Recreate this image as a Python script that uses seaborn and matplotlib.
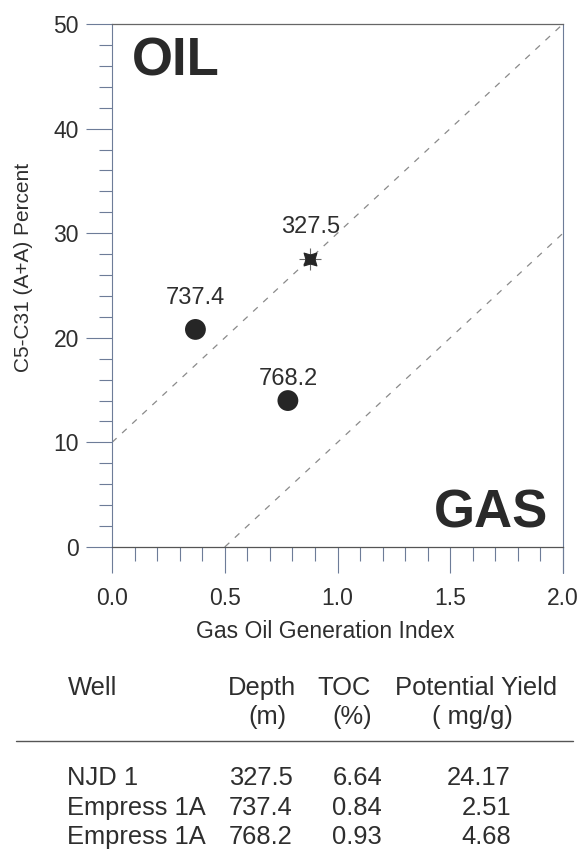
import matplotlib
matplotlib.use("Agg")
import matplotlib.pyplot as plt
import seaborn as sns
import pandas as pd

# Sample data
wells = ["NJD 1", "Empress 1A", "Empress 1A"]
depths = [327.5, 737.4, 768.2]
toc = [6.64, 0.84, 0.93]
potential_yield = [24.17, 2.51, 4.68]
gogi = [0.88, 0.37, 0.78]            # Gas Oil Generation Index
c5c31 = [27.5, 20.8, 14.0]           # C5-C31 (A+A) percent
marker_kind = ["star", "dot", "dot"]

# Oil / gas field boundaries
upper_x = [0.0, 2.0]
upper_y = [10.0, 50.0]
lower_x = [0.5, 2.0]
lower_y = [0.0, 30.0]

x_ticks = [0.0, 0.5, 1.0, 1.5, 2.0]
y_ticks = [0, 10, 20, 30, 40, 50]

df = pd.DataFrame({"gogi": gogi, "c5c31": c5c31, "depth": depths,
                   "kind": marker_kind})

sns.set_theme(style="white")
plt.rcParams["font.family"] = ["Liberation Sans", "DejaVu Sans"]

W, H = 578, 850
fig = plt.figure(figsize=(W / 100, H / 100), dpi=100)
ax = fig.add_axes([112 / W, 1 - 547 / H, 451 / W, 523 / H])

text_c = "#2e2e2e"
spine_c = "#6d7c98"

# boundary lines
sns.lineplot(x=upper_x, y=upper_y, ax=ax, color="#8a8a8a", lw=0.9,
             linestyle=(0, (5, 6)))
sns.lineplot(x=lower_x, y=lower_y, ax=ax, color="#8a8a8a", lw=0.9,
             linestyle=(0, (5, 6)))

dots = df[df["kind"] == "dot"]
stars = df[df["kind"] == "star"]
sns.scatterplot(data=dots, x="gogi", y="c5c31", ax=ax, s=225,
                color="#262626", edgecolor="none", zorder=5)
sns.scatterplot(data=stars, x="gogi", y="c5c31", ax=ax, s=230,
                marker="+", color="#6a6a6a", linewidth=0.8, zorder=5)
sns.scatterplot(data=stars, x="gogi", y="c5c31", ax=ax, s=170,
                marker=(4, 1, 45), color="#262626", edgecolor="#262626",
                linewidth=0.8, zorder=6)

# depth labels above each sample
label_offsets = {327.5: 19, 737.4: 18, 768.2: 11}
for xv, yv, d in zip(gogi, c5c31, depths):
    ax.annotate(f"{d:.1f}", (xv, yv), xytext=(0, label_offsets[d]),
                textcoords="offset points", ha="center", va="baseline",
                fontsize=17, color=text_c)

ax.set_xlim(0, 2.0)
ax.set_ylim(0, 50)
ax.set_xticks(x_ticks)
ax.set_xticklabels([f"{t:.1f}" for t in x_ticks])
ax.set_yticks(y_ticks)
ax.set_yticklabels([str(t) for t in y_ticks])
ax.set_xticks([i / 10 for i in range(21)], minor=True)
ax.set_yticks(list(range(0, 51, 2)), minor=True)
ax.set_xlabel("")
ax.set_ylabel("")

ax.tick_params(axis="both", which="both", direction="out", color=spine_c,
               width=0.8, labelcolor=text_c, labelsize=16.5)
ax.tick_params(axis="y", which="major", length=18.7, pad=5, left=True)
ax.tick_params(axis="y", which="minor", length=9.2, left=True)
ax.tick_params(axis="x", which="major", length=18.7, pad=10, bottom=True)
ax.tick_params(axis="x", which="minor", length=10, bottom=True)

for side in ["left", "right"]:
    ax.spines[side].set_color(spine_c)
    ax.spines[side].set_linewidth(0.8)
ax.spines["top"].set_color("#666666")
ax.spines["top"].set_linestyle((0, (1, 1)))
ax.spines["top"].set_linewidth(0.9)
ax.spines["bottom"].set_color("#555555")
ax.spines["bottom"].set_linewidth(0.9)
ax.spines["bottom"].set_linestyle((0, (2, 1)))

# the right edge continues down as the 2.0 tick
ax.plot([2.0, 2.0], [0, -2.5], color=spine_c, lw=0.8, clip_on=False)

ax.text((132 - 112) / 451, 1 - (75 - 24) / 523, "OIL",
        transform=ax.transAxes, fontsize=38, fontweight="bold",
        color="#2a2a2a", ha="left", va="baseline")
ax.text((548 - 112) / 451, (547 - 528) / 523, "GAS", transform=ax.transAxes,
        fontsize=38, fontweight="bold", color="#2a2a2a", ha="right",
        va="baseline")

fig.text(24 / W, 1 - 267 / H, "C5-C31 (A+A) Percent", rotation=90,
         ha="center", va="center", fontsize=15, color=text_c)
fig.text(325 / W, 1 - 638 / H, "Gas Oil Generation Index", ha="center",
         va="baseline", fontsize=16.5, color=text_c)

# table of samples
fs = 18.4
def ftext(x, y, s, ha="left"):
    fig.text(x / W, 1 - y / H, s, ha=ha, va="baseline", fontsize=fs,
             color=text_c)

ftext(68, 695, "Well")
ftext(296, 695, "Depth", ha="right")
ftext(371, 695, "TOC", ha="right")
ftext(557, 695, "Potential Yield", ha="right")
ftext(287, 724, "(m)", ha="right")
ftext(372, 724, "(%)", ha="right")
ftext(472, 724, "( mg/g)", ha="center")
fig.add_artist(plt.Line2D([16 / W, 573 / W], [1 - 741 / H, 1 - 741 / H],
                          color="#555555", lw=1.0))

row_y = [785, 815, 844]
for ry, w, d, t, p in zip(row_y, wells, depths, toc, potential_yield):
    ftext(67, ry, w)
    ftext(293, ry, f"{d:.1f}", ha="right")
    ftext(382, ry, f"{t:.2f}", ha="right")
    ftext(511, ry, f"{p:.2f}", ha="right")

fig.savefig("out.png", dpi=100, facecolor="white")
